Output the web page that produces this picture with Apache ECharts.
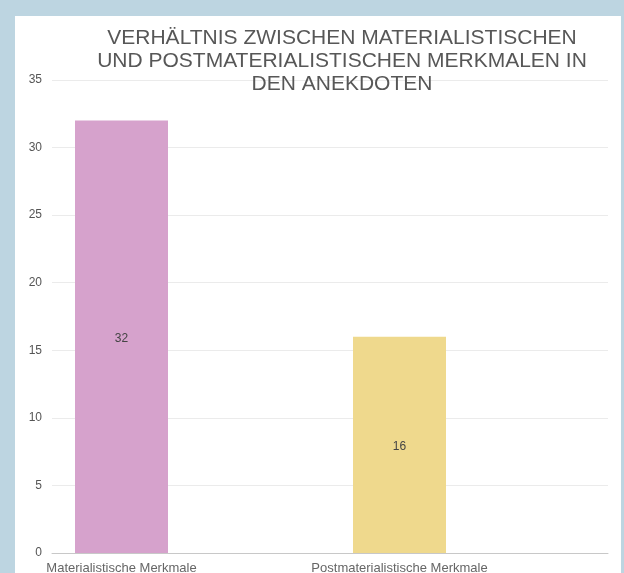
<!DOCTYPE html>
<html><head><meta charset="utf-8">
<style>
html,body{margin:0;padding:0;background:#bdd5e1;}
#card{position:absolute;left:15px;top:16px;width:606px;height:557px;background:#fff;}
#chart{position:absolute;left:0;top:0;width:624px;height:573px;}
</style>
<script src="https://cdn.jsdelivr.net/npm/echarts@6/dist/echarts.min.js"></script>
</head><body>
<div id="card"></div>
<div id="chart"></div>
<script>
var titleText = 'VERHÄLTNIS ZWISCHEN MATERIALISTISCHEN\nUND POSTMATERIALISTISCHEN MERKMALEN IN\nDEN ANEKDOTEN';
var categories = ['Materialistische Merkmale', 'Postmaterialistische Merkmale'];
var values = [32, 16];
var barColors = ['#d6a2cc', '#efd98d'];
var yMin = 0, yMax = 35, yInterval = 5;

// interleave empty slots so bars sit at quarter positions like the reference
var axisData = [], barData = [];
categories.forEach(function (c, i) {
  axisData.push(c); axisData.push('');
  barData.push({ value: values[i], itemStyle: { color: barColors[i] } });
  barData.push(null);
});

var chart = echarts.init(document.getElementById('chart'), null, { renderer: 'canvas' });
chart.setOption({
  backgroundColor: 'transparent',
  animation: false,
  title: {
    text: titleText,
    left: 337, top: 22, textAlign: 'center',
    textStyle: { fontFamily: 'Liberation Sans, Arial, sans-serif', fontSize: 21, fontWeight: 'normal', color: '#575757', lineHeight: 23 }
  },
  grid: { left: 52, right: 16, top: 80, bottom: 20, outerBoundsMode: 'none', containLabel: false },
  xAxis: {
    type: 'category', data: axisData,
    axisLine: { lineStyle: { color: '#c8c8c8' } },
    axisTick: { show: false },
    axisLabel: { interval: 0, margin: 9, color: '#666', fontSize: 13, fontFamily: 'Liberation Sans, Arial, sans-serif' }
  },
  yAxis: {
    type: 'value', min: yMin, max: yMax, interval: yInterval,
    axisLine: { show: false }, axisTick: { show: false },
    splitLine: { lineStyle: { color: '#ebebeb' } },
    axisLabel: { margin: 10, color: '#555', fontSize: 12, fontFamily: 'Liberation Sans, Arial, sans-serif' }
  },
  series: [{
    type: 'bar', data: barData, barWidth: 93,
    label: { show: true, position: 'inside', offset: [0, 2], color: '#444', fontSize: 12, fontFamily: 'Liberation Sans, Arial, sans-serif' }
  }]
});
</script>
</body></html>
